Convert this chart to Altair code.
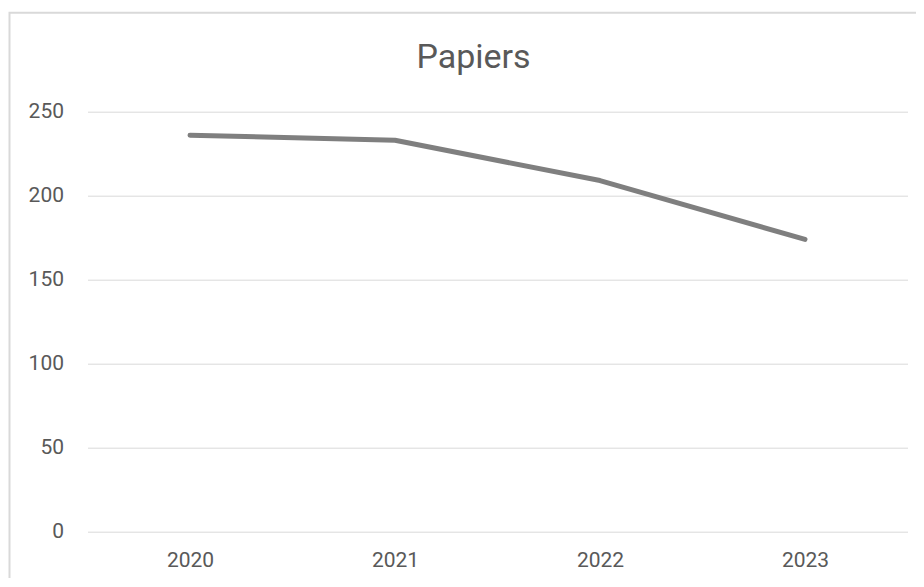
import altair as alt
import pandas as pd

years = ["2020", "2021", "2022", "2023"]
values = [236, 233, 209, 174]
y_ticks = [0, 50, 100, 150, 200, 250]

df = pd.DataFrame({"year": years, "value": values})

W, H = 820, 420

line = alt.Chart(df).mark_line(
    color="#7F7F7F", strokeWidth=5, strokeCap="round", strokeJoin="round"
).encode(
    x=alt.X("year:O", sort=years, title=None,
            scale=alt.Scale(type="point", padding=0.5),
            axis=alt.Axis(labelAngle=0, ticks=False, domain=False, grid=False,
                          labelFontSize=21, labelColor="#595959",
                          labelPadding=18, labelFont="Roboto")),
    y=alt.Y("value:Q", title=None,
            scale=alt.Scale(domain=[0, 250], nice=False),
            axis=alt.Axis(values=y_ticks, ticks=False, domain=False, grid=True,
                          gridColor="#D9D9D9", gridWidth=1,
                          labelFontSize=21, labelColor="#595959",
                          labelPadding=24, labelFont="Roboto")),
)

border = alt.Chart(pd.DataFrame({"k": [0]})).mark_rect(
    fill=None, stroke="#D9D9D9", strokeWidth=2
).encode(
    x=alt.value(-78), x2=alt.value(W + 60),
    y=alt.value(-99), y2=alt.value(H + 80),
)

chart = alt.layer(border, line).properties(
    width=W, height=H,
    autosize=alt.AutoSizeParams(type="none"),
    padding={"left": 79.5, "top": 103.7, "right": 8, "bottom": 46},
    title=alt.TitleParams("Papiers", fontSize=34, color="#595959",
                          fontWeight="normal", font="Roboto",
                          anchor="middle", dx=-24, dy=91, offset=28),
).configure_view(stroke=None, fill="white")

chart.save("out.html", embed_options={"renderer": "svg", "actions": False})
